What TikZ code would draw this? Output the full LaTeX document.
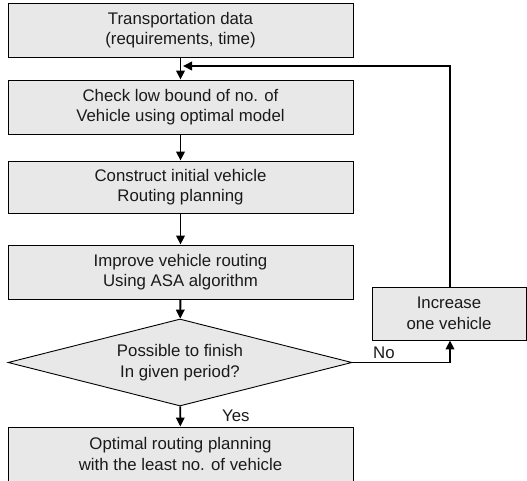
\documentclass[tikz,border=0pt]{standalone}
\usepackage{fontspec}
\setmainfont{Liberation Sans}
\usetikzlibrary{shapes.geometric,arrows.meta}
\definecolor{boxfill}{HTML}{E8E8E8}
\definecolor{txt}{HTML}{1A1A1A}
\tikzset{
  stepbox/.style={draw=black, line width=0.9pt, fill=boxfill, minimum width=345pt, minimum height=54pt, inner sep=0pt, align=center, font=\fontsize{16.8}{20.5}\selectfont, text=txt},
  decision/.style={diamond, draw=black, line width=0.9pt, fill=boxfill, minimum width=344pt, minimum height=87pt, aspect=3.95, inner sep=0pt, align=center, font=\fontsize{16.8}{20.5}\selectfont, text=txt},
  conn/.style={line width=1.9pt, -{Triangle[length=9pt,width=8.5pt]}},
  lbl/.style={font=\fontsize{16.8}{20}\selectfont, text=txt, inner sep=0pt}
}
\begin{document}
\begin{tikzpicture}[x=1pt,y=-1pt]
\useasboundingbox (0,0) rectangle (527,481);
\node[stepbox] (b1) at (180.5,30) {Transportation data\\(requirements, time)};
\node[stepbox] (b2) at (180.5,107) {Check low bound of no. of\\Vehicle using optimal model};
\node[stepbox, minimum height=52pt] (b3) at (180.5,187) {Construct initial vehicle\\Routing planning};
\node[stepbox] (b4) at (180.5,272) {Improve vehicle routing\\Using ASA algorithm};
\node[decision] (d) at (180,362.5) {Possible to finish\\In given period?};
\node[stepbox] (b5) at (180.5,454) {Optimal routing planning\\with the least no. of vehicle};
\node[stepbox, minimum width=154pt, minimum height=53pt] (inc) at (449,313.5) {Increase\\one vehicle};
\coordinate (j) at (183,66);
\draw[conn] (b1) -- (b2);
\draw[conn] (b2) -- (b3);
\draw[conn] (b3) -- (b4);
\draw[conn] (b4) -- (d);
\draw[conn] (d) -- (b5);
\draw[conn] (inc.north -| 450,0) |- (j);
\draw[conn] (d.east) -| (inc.south -| 450,0);
\node[lbl, anchor=west] at (373,353) {No};
\node[lbl, anchor=west] at (222,416) {Yes};
\end{tikzpicture}
\end{document}
